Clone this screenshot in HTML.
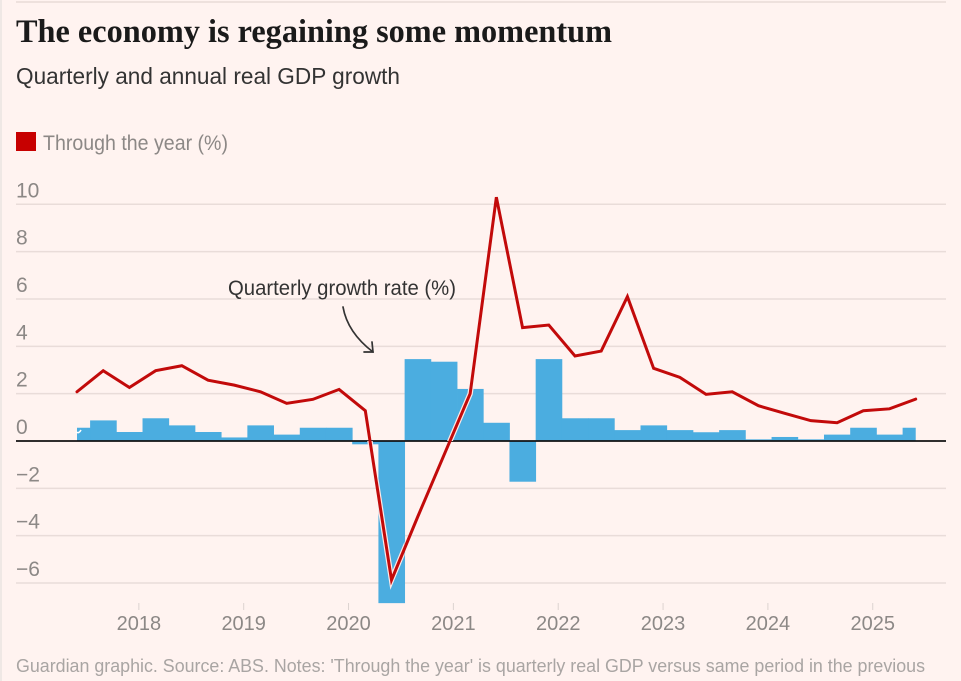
<!DOCTYPE html>
<html lang="en">
<head>
<meta charset="utf-8">
<title>The economy is regaining some momentum</title>
<style>
html,body{margin:0;padding:0;background:#fff3f0;}
body{width:961px;height:681px;overflow:hidden;}
svg{display:block;}
text{font-family:"Liberation Sans",sans-serif;}
</style>
</head>
<body>
<svg id="chart" width="961" height="681" viewBox="0 0 961 681">
  <rect x="0" y="0" width="961" height="681" fill="#fff3f0"/>
  <rect x="0" y="0" width="2" height="681" fill="#efe8e5"/>
  <rect x="16" y="1" width="930" height="2" fill="#eee1dd"/>
  <text x="16" y="42" font-size="33" font-weight="700" fill="#1a1a1a" textLength="596" lengthAdjust="spacingAndGlyphs" style='font-family:"Liberation Serif",serif'>The economy is regaining some momentum</text>
  <text x="16" y="84" font-size="23" fill="#333333" textLength="384" lengthAdjust="spacingAndGlyphs">Quarterly and annual real GDP growth</text>
  <rect x="16" y="132" width="20" height="19" fill="#c70000"/>
  <text x="43" y="150" font-size="21" fill="#8c8886" textLength="185" lengthAdjust="spacingAndGlyphs">Through the year (%)</text>
  <g id="grid-layer"></g>
  <g id="y-label-layer"></g>
  <g id="bar-layer"></g>
  <path d="M76 432 q3 2 5 -2" fill="none" stroke="#ffffff" stroke-width="1.5"/>
  <line x1="16" x2="946" y1="441" y2="441" stroke="#121212" stroke-width="1.8"/>
  <g id="line-layer"></g>
  <g id="x-axis-layer"></g>
  <text x="228" y="295" font-size="21" fill="#333333" textLength="228" lengthAdjust="spacingAndGlyphs">Quarterly growth rate (%)</text>
  <g fill="none" stroke="#333333" stroke-width="1.7" stroke-linecap="round">
    <path d="M343 307 C346 324 356 339 373 352"/>
    <path d="M372 342 L373 352 L364 352"/>
  </g>
  <text x="16" y="672" font-size="18" fill="#a9a5a3" textLength="909" lengthAdjust="spacingAndGlyphs">Guardian graphic. Source: ABS. Notes: 'Through the year' is quarterly real GDP versus same period in the previous</text>
</svg>
<script>
var quarters = ["Jun 2017","Sep 2017","Dec 2017","Mar 2018","Jun 2018","Sep 2018","Dec 2018","Mar 2019","Jun 2019","Sep 2019","Dec 2019","Mar 2020","Jun 2020","Sep 2020","Dec 2020","Mar 2021","Jun 2021","Sep 2021","Dec 2021","Mar 2022","Jun 2022","Sep 2022","Dec 2022","Mar 2023","Jun 2023","Sep 2023","Dec 2023","Mar 2024","Jun 2024","Sep 2024","Dec 2024","Mar 2025","Jun 2025"];
var quarterlyGrowth = [0.56,0.87,0.38,0.96,0.66,0.38,0.15,0.66,0.27,0.56,0.56,-0.14,-6.85,3.46,3.35,2.2,0.77,-1.72,3.46,0.96,0.96,0.46,0.66,0.46,0.37,0.46,0.07,0.17,0.07,0.27,0.56,0.27,0.56];
var throughTheYear = [2.08,2.97,2.26,2.97,3.18,2.57,2.36,2.08,1.59,1.76,2.18,1.28,-5.87,-3.2,-0.6,2.0,10.3,4.79,4.9,3.59,3.8,6.1,3.07,2.69,1.97,2.08,1.49,1.17,0.86,0.77,1.28,1.36,1.77];
var yTickValues = [10,8,6,4,2,0,-2,-4,-6];
var xTickYears = [2018,2019,2020,2021,2022,2023,2024,2025];

var svgNS = "http://www.w3.org/2000/svg";
function make(tag, attrs, parent) {
  var el = document.createElementNS(svgNS, tag);
  for (var k in attrs) { el.setAttribute(k, attrs[k]); }
  parent.appendChild(el);
  return el;
}
function xScale(i) { return 77 + i * 26.21; }
function yScale(v) { return 441 - v * 23.67; }
function xYear(year) { return xScale(0) + (year - 2017.41) * 4 * 26.21; }

var gridLayer = document.getElementById("grid-layer");
var yLabelLayer = document.getElementById("y-label-layer");
yTickValues.forEach(function (v) {
  if (v !== 0) {
    var grid = make("line", {x1: 16, x2: 946, y1: yScale(v), y2: yScale(v), stroke: "#e9dcd9", "stroke-width": 1.5}, gridLayer);
    
    
  }
  var label = make("text", {x: 16, y: yScale(v) - 7, "font-size": 21, fill: "#8c8886"}, yLabelLayer);
  label.textContent = v < 0 ? "\u2212" + Math.abs(v) : String(v);
  
  
});

var barLayer = document.getElementById("bar-layer");
var halfBar = 13.105;
quarterlyGrowth.forEach(function (v, i) {
  var left = Math.max(xScale(i) - halfBar, xScale(0));
  var right = Math.min(xScale(i) + halfBar, xScale(quarters.length - 1));
  var bar = make("rect", {
    x: left,
    y: Math.min(yScale(v), yScale(0)),
    width: right - left + (i < quarters.length - 1 ? 0.4 : 0),
    height: Math.abs(yScale(v) - yScale(0)),
    fill: "#4bade0"
  }, barLayer);
  
  
});

var lineLayer = document.getElementById("line-layer");
var points = throughTheYear.map(function (v, i) { return xScale(i) + "," + yScale(v); }).join(" ");
var barHalo = document.createElementNS(svgNS, "clipPath");
barHalo.setAttribute("id", "bar-clip");
document.getElementById("chart").appendChild(barHalo);
quarterlyGrowth.forEach(function (v, i) {
  make("rect", {x: xScale(i) - halfBar, y: Math.min(yScale(v), yScale(0)), width: halfBar * 2, height: Math.abs(yScale(v) - yScale(0))}, barHalo);
});
var halo = make("polyline", {points: points, fill: "none", stroke: "#ffe9e6", "stroke-width": 5.4, "stroke-linejoin": "miter", "clip-path": "url(#bar-clip)"}, lineLayer);


var redLine = make("polyline", {points: points, fill: "none", stroke: "#c20a0a", "stroke-width": 3, "stroke-linejoin": "miter", "stroke-linecap": "round"}, lineLayer);



var xAxisLayer = document.getElementById("x-axis-layer");
xTickYears.forEach(function (year) {
  var tick = make("line", {x1: xYear(year), x2: xYear(year), y1: 603, y2: 610, stroke: "#dcd3d0", "stroke-width": 1}, xAxisLayer);
  
  
  var label = make("text", {x: xYear(year), y: 630, "font-size": 20, fill: "#8c8886", "text-anchor": "middle"}, xAxisLayer);
  label.textContent = String(year);
  
  
});
</script>
</body>
</html>
